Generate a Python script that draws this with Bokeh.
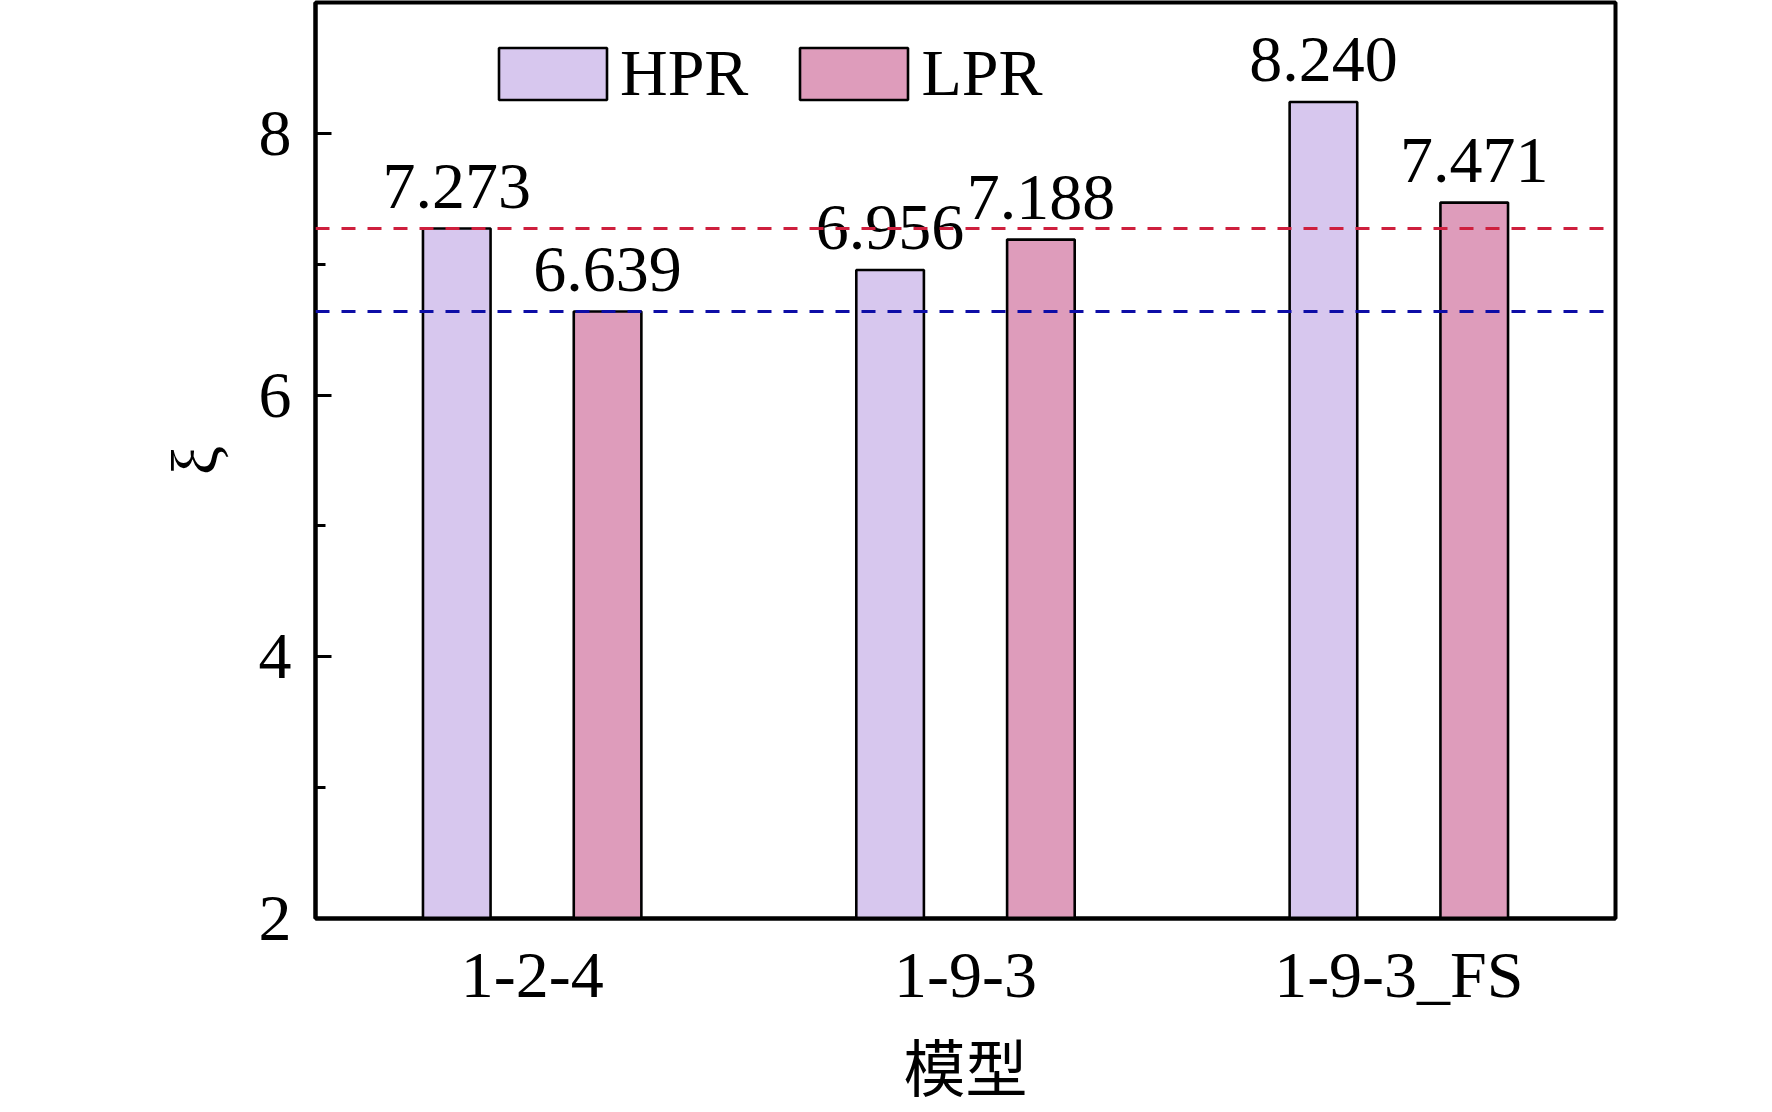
from bokeh.plotting import figure
from bokeh.models import (ColumnDataSource, Span, Legend, LegendItem,
                          SingleIntervalTicker, FactorRange, Range1d)
from bokeh.transform import dodge
from bokeh.core.properties import value
from bokeh.embed import file_html
from bokeh.resources import INLINE

models = ["1-2-4", "1-9-3", "1-9-3_FS"]
hpr = [7.273, 6.956, 8.240]
lpr = [6.639, 7.188, 7.471]
hpr_labels = ["7.273", "6.956", "8.240"]
lpr_labels = ["6.639", "7.188", "7.471"]
y_ticks_interval = 2

src = ColumnDataSource(dict(models=models, hpr=hpr, lpr=lpr,
                            hl=hpr_labels, ll=lpr_labels))

SERIF = "Liberation Serif"
FS = "66px"

p = figure(x_range=FactorRange(*models, range_padding=0),
           y_range=Range1d(2, 9.0),
           width=1772, height=1112,
           output_backend="svg", toolbar_location=None,
           min_border_left=315, min_border_right=157,
           min_border_top=2, min_border_bottom=192)

p.xgrid.visible = False
p.ygrid.visible = False
p.outline_line_color = "black"
p.outline_line_width = 4
p.background_fill_color = "white"
p.border_fill_color = "white"

r1 = p.vbar(x=dodge("models", -0.174, range=p.x_range), top="hpr", bottom=0,
            width=0.156, source=src, fill_color="#D7C7EE",
            line_color="black", line_width=2.6)
r2 = p.vbar(x=dodge("models", 0.174, range=p.x_range), top="lpr", bottom=0,
            width=0.156, source=src, fill_color="#DE9CBB",
            line_color="black", line_width=2.6)

p.text(x=dodge("models", -0.174, range=p.x_range), y="hpr", text="hl",
       source=src, text_align="center", text_baseline="alphabetic",
       y_offset=-42, text_font=value(SERIF), text_font_size=FS,
       text_color="black")
p.text(x=dodge("models", 0.174, range=p.x_range), y="lpr", text="ll",
       source=src, text_align="center", text_baseline="alphabetic",
       y_offset=-42, text_font=value(SERIF), text_font_size=FS,
       text_color="black")

p.add_layout(Span(location=hpr[0], dimension="width", line_color="#CE1F3D",
                  line_dash="14 12", line_width=3))
p.add_layout(Span(location=lpr[0], dimension="width", line_color="#0D0DA6",
                  line_dash="14 12", line_width=3))

# y axis
p.yaxis.ticker = SingleIntervalTicker(interval=y_ticks_interval, num_minor_ticks=2)
p.yaxis.axis_label = "ξ"
p.yaxis.axis_label_text_font = SERIF
p.yaxis.axis_label_text_font_style = "normal"
p.yaxis.axis_label_text_font_size = FS
p.yaxis.axis_label_text_color = "black"
p.yaxis.axis_label_standoff = 25
p.yaxis.major_label_text_font = SERIF
p.yaxis.major_label_text_font_size = FS
p.yaxis.major_label_text_color = "black"
p.yaxis.major_label_standoff = 24
p.yaxis.major_tick_in = 16
p.yaxis.major_tick_out = 0
p.yaxis.minor_tick_in = 10
p.yaxis.minor_tick_out = 0
p.yaxis.major_tick_line_width = 3
p.yaxis.minor_tick_line_width = 3
p.yaxis.axis_line_width = 4

# x axis
p.xaxis.axis_label = "模型"
p.xaxis.axis_label_text_font = "Noto Sans CJK SC"
p.xaxis.axis_label_text_font_style = "normal"
p.xaxis.axis_label_text_font_size = "62px"
p.xaxis.axis_label_text_color = "black"
p.xaxis.axis_label_standoff = 6
p.xaxis.major_label_text_font = SERIF
p.xaxis.major_label_text_font_size = FS
p.xaxis.major_label_text_color = "black"
p.xaxis.major_label_standoff = 13
p.xaxis.major_tick_line_color = None
p.xaxis.minor_tick_line_color = None
p.xaxis.axis_line_width = 4

legend = Legend(items=[LegendItem(label="HPR", renderers=[r1]),
                       LegendItem(label="LPR", renderers=[r2])],
                orientation="horizontal", location=(170, 807),
                glyph_width=135, glyph_height=65, label_standoff=0,
                spacing=38, padding=0, margin=0,
                border_line_color=None, background_fill_alpha=0,
                label_text_font=SERIF, label_text_font_size=FS,
                label_text_color="black")
p.add_layout(legend)

open("out.html", "w").write(file_html(p, INLINE))
